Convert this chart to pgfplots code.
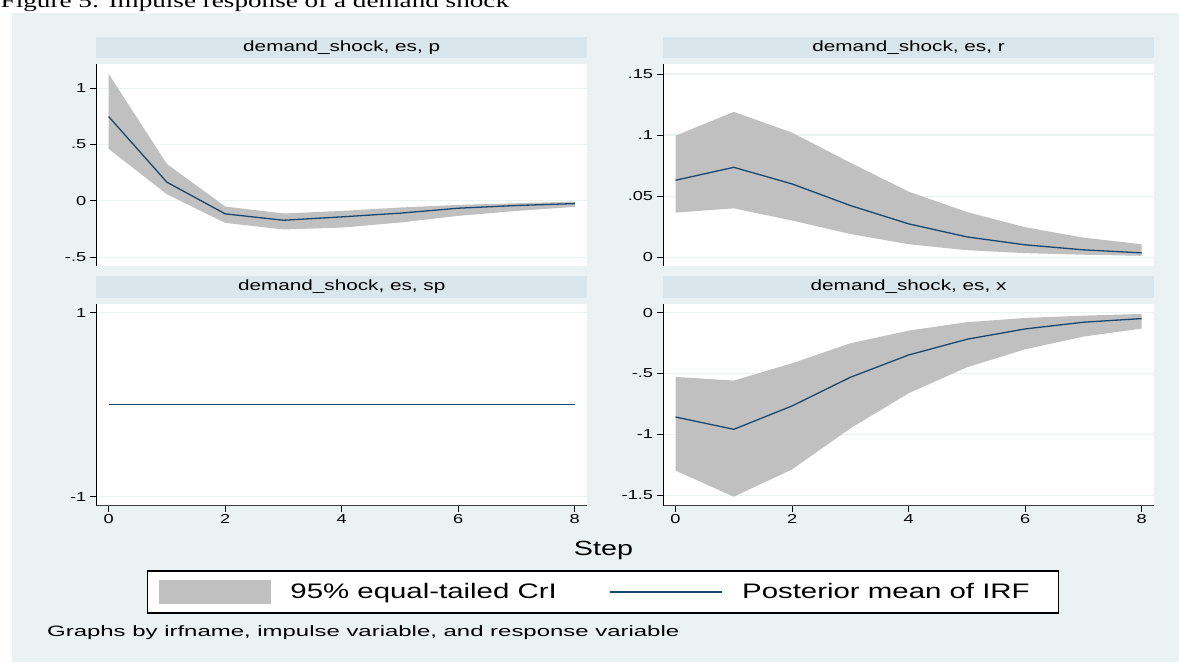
\documentclass[border=0pt]{standalone}
\usepackage{fontspec}
\setmainfont{Liberation Sans}[FakeStretch=1.4]
\newfontfamily\capfont{Liberation Serif}[FakeStretch=1.4]
\usepackage{pgfplots}
\pgfplotsset{compat=1.18}

\definecolor{bgc}{RGB}{234,242,243}
\definecolor{stripc}{RGB}{217,230,235}
\definecolor{bandc}{RGB}{192,192,192}
\definecolor{navyc}{RGB}{26,71,111}
\definecolor{gridc}{RGB}{234,242,243}

\pgfplotsset{
  irf/.style={
    scale only axis, width=490.6pt, height=202pt,
    xmin=-0.21, xmax=8.21,
    axis background/.style={fill=white},
    axis y line*=left,
    ymajorgrids,
    grid style={color=gridc, line width=1.2pt},
    tick align=outside, major tick length=6pt,
    tick style={color=black, line width=0.8pt},
    axis line style={line width=1pt, black},
    yticklabel style={font=\fontsize{13}{15}\selectfont, inner xsep=4pt},
    xticklabel style={font=\fontsize{13}{15}\selectfont, inner ysep=3pt},
    /pgf/number format/assume math mode=true,
    title style={at={(0.5,1)}, anchor=south, fill=stripc,
      minimum width=490.6pt, minimum height=21.5pt, inner sep=0pt,
      font=\fontsize{14.8}{16}\selectfont},
  },
  toprow/.style={axis x line=none},
  botrow/.style={axis x line*=bottom, xtick={0,2,4,6,8},
     x axis line style={color=black!75}},
}

\begin{document}
\begin{tikzpicture}[x=1pt,y=1pt]
\fill[white] (0,0) rectangle (1179,-662);
\fill[bgc] (12,-12.7) rectangle (1179,-662);
\node[anchor=base west, inner sep=0pt, font=\capfont\fontsize{19.4}{22}\selectfont] at (0.5,-7.3) {Figure 5: Impulse response of a demand shock};

% top-left: p
\begin{axis}[irf, toprow, at={(96.4pt,-266.3pt)}, anchor=south west,
  ymin=-0.581, ymax=1.213, ytick={-0.5,0,0.5,1}, yticklabels={-.5,0,.5,1},
  title={demand\_shock, es, p}]
\addplot[fill=bandc, draw=none] coordinates {
 (0,1.127) (1,0.328) (2,-0.050) (3,-0.112) (4,-0.089) (5,-0.059) (6,-0.036) (7,-0.021) (8,-0.006)
 (8,-0.053) (7,-0.089) (6,-0.133) (5,-0.192) (4,-0.237) (3,-0.254) (2,-0.195) (1,0.059) (0,0.462)
} -- cycle;
\addplot[navyc, line width=1.3pt] coordinates {
 (0,0.749) (1,0.166) (2,-0.115) (3,-0.172) (4,-0.142) (5,-0.109) (6,-0.065) (7,-0.041) (8,-0.024)
};
\end{axis}

% top-right: r
\begin{axis}[irf, toprow, at={(663.3pt,-266.3pt)}, anchor=south west,
  ymin=-0.0075, ymax=0.158, ytick={0,0.05,0.1,0.15}, yticklabels={0,.05,.1,.15},
  title={demand\_shock, es, r}]
\addplot[fill=bandc, draw=none] coordinates {
 (0,0.0995) (1,0.1190) (2,0.1020) (3,0.0774) (4,0.0537) (5,0.0370) (6,0.0245) (7,0.0160) (8,0.0106)
 (8,0.0011) (7,0.0020) (6,0.0033) (5,0.0057) (4,0.0106) (3,0.0190) (2,0.0300) (1,0.0400) (0,0.0365)
} -- cycle;
\addplot[navyc, line width=1.3pt] coordinates {
 (0,0.0630) (1,0.0736) (2,0.0600) (3,0.0423) (4,0.0273) (5,0.0166) (6,0.0101) (7,0.0060) (8,0.0035)
};
\end{axis}

% bottom-left: sp
\begin{axis}[irf, botrow, at={(96.4pt,-505.7pt)}, anchor=south west,
  ymin=-1.098, ymax=1.097, ytick={-1,1}, yticklabels={-1,1},
  title={demand\_shock, es, sp},
  legend columns=2,
  legend style={at={(1.0328,-0.4268)}, anchor=center,
    draw=black, line width=1.5pt, fill=white,
    inner xsep=12pt, inner ysep=9pt,
    font=\fontsize{21}{24}\selectfont,
    nodes={inner sep=0pt},
    /tikz/every odd column/.append style={column sep=19pt},
    /tikz/every even column/.append style={column sep=53pt}},
  ]
\addplot[fill=bandc, draw=none,
  legend image code/.code={\fill[bandc] (0pt,-12pt) rectangle (112pt,12pt);}]
  coordinates {(0,0) (1,0) (2,0) (3,0) (4,0) (5,0) (6,0) (7,0) (8,0)};
\addlegendentry{95\% equal-tailed CrI}
\addplot[navyc, line width=1.3pt,
  legend image code/.code={\draw[navyc, line width=1.3pt] (0pt,0pt) -- (112pt,0pt);}]
  coordinates {(0,0) (1,0) (2,0) (3,0) (4,0) (5,0) (6,0) (7,0) (8,0)};
\addlegendentry{Posterior mean of IRF\hspace*{17pt}}
\end{axis}

% bottom-right: x
\begin{axis}[irf, botrow, at={(663.3pt,-505.7pt)}, anchor=south west,
  ymin=-1.585, ymax=0.073, ytick={-1.5,-1,-0.5,0}, yticklabels={-1.5,-1,-.5,0},
  title={demand\_shock, es, x}]
\addplot[fill=bandc, draw=none] coordinates {
 (0,-0.528) (1,-0.558) (2,-0.416) (3,-0.252) (4,-0.148) (5,-0.079) (6,-0.044) (7,-0.025) (8,-0.011)
 (8,-0.131) (7,-0.197) (6,-0.301) (5,-0.449) (4,-0.662) (3,-0.950) (2,-1.287) (1,-1.511) (0,-1.297)
} -- cycle;
\addplot[navyc, line width=1.3pt] coordinates {
 (0,-0.857) (1,-0.958) (2,-0.766) (3,-0.531) (4,-0.348) (5,-0.219) (6,-0.134) (7,-0.079) (8,-0.049)
};
\end{axis}

\node[font=\fontsize{20.5}{23}\selectfont, inner sep=0pt] at (603.5,-550) {Step};
\node[anchor=west, inner sep=0pt, font=\fontsize{15}{17}\selectfont] at (47,-633) {\scalebox{1.14}[1]{Graphs by irfname, impulse variable, and response variable}};
\pgfresetboundingbox
\path[use as bounding box] (0,0) rectangle (1179,-662);
\end{tikzpicture}
\end{document}
